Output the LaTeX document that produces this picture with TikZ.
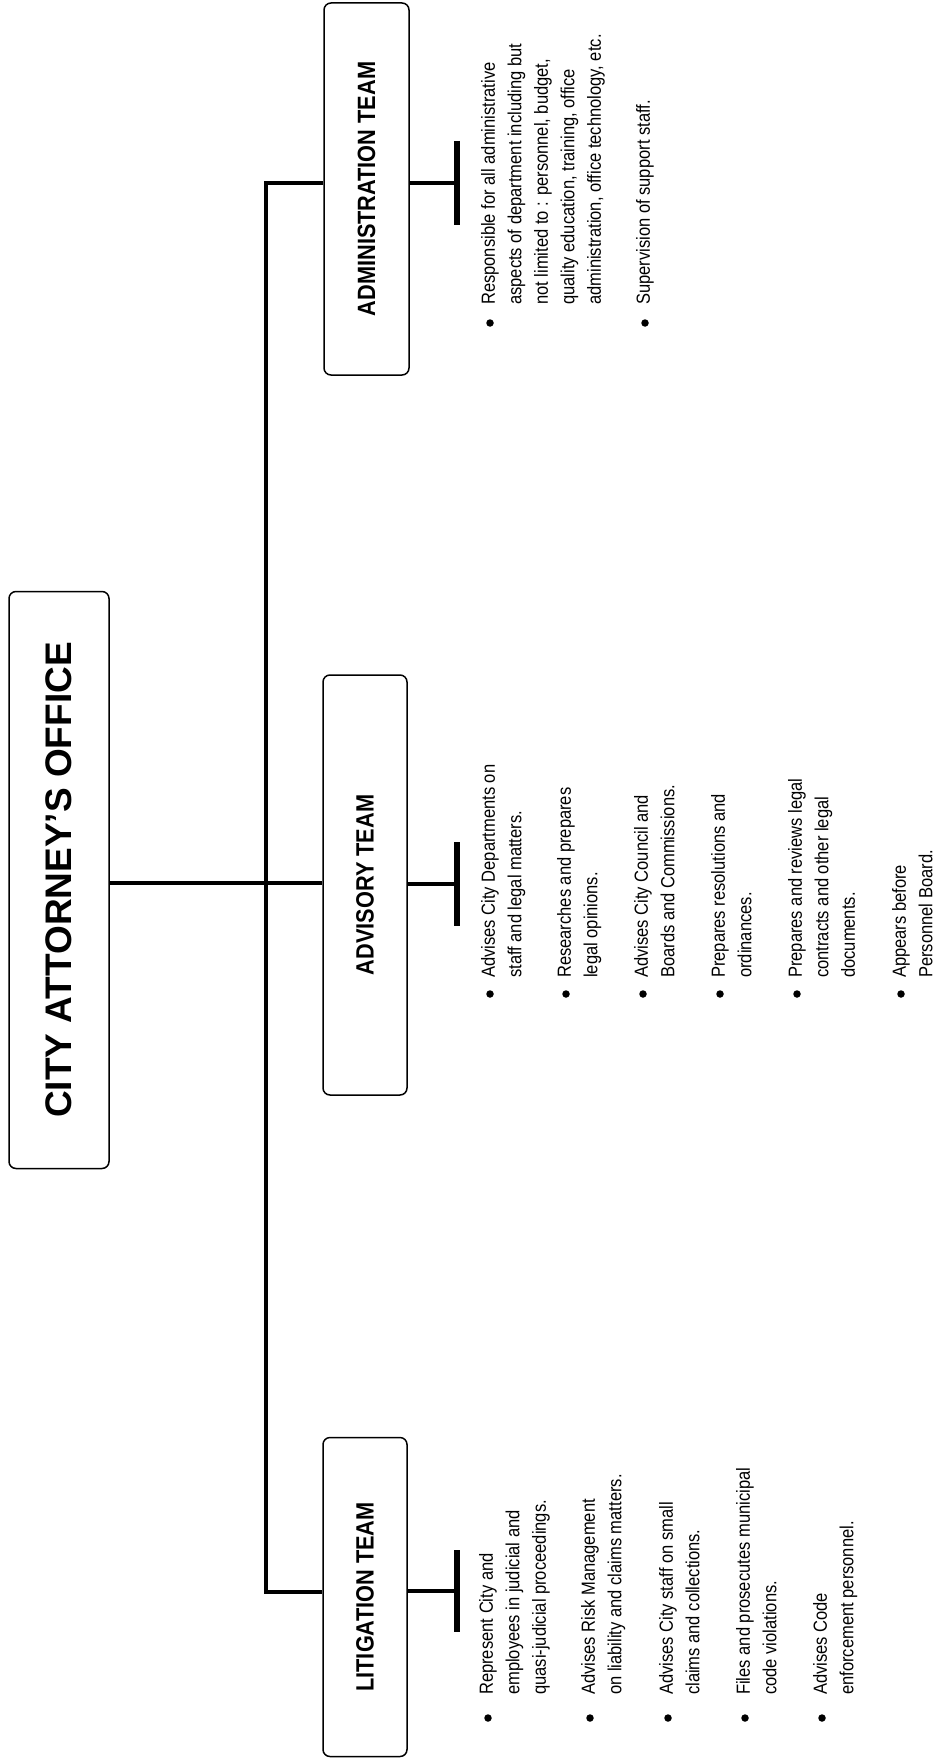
\documentclass[tikz,border=0pt]{standalone}
\usepackage{fontspec}
\setmainfont{Liberation Sans}
\newfontfamily\narrowfont[FakeStretch=0.87]{Liberation Sans}
\begin{document}
\begin{tikzpicture}[x=1pt,y=-1pt,
  box/.style={draw, line width=1.5pt, rounded corners=7pt, rotate=90, inner sep=0pt,
    font=\narrowfont\bfseries\fontsize{25}{30}\selectfont},
  conn/.style={line width=4.5pt},
  tbar/.style={line width=5.5pt},
  itm/.style={rotate=90, anchor=north west, inner sep=0pt, align=left,
    font=\narrowfont\fontsize{19}{26.5}\selectfont},
  dot/.style={circle, fill, inner sep=0pt, minimum size=7.5pt}
]
\useasboundingbox[fill=white] (0,0) rectangle (935,1758);

% boxes (text runs bottom to top)
\node[box, minimum width=577pt, minimum height=100pt,
  font=\bfseries\fontsize{37}{40}\selectfont] (cao) at (59,880) {CITY ATTORNEY'S OFFICE};
\node[box, minimum width=372pt, minimum height=85pt] (adm) at (366.5,189) {ADMINISTRATION TEAM};
\node[box, minimum width=420pt, minimum height=84pt] (adv) at (365,885) {ADVISORY TEAM};
\node[box, minimum width=319pt, minimum height=84pt] (lit) at (365,1597) {LITIGATION TEAM};

% trunk and branches
\coordinate (jA) at (266,183);
\coordinate (jV) at (266,883);
\coordinate (jL) at (266,1592);
\draw[conn] (adm.north |- jA) -- (jA) -- (jL) -- (lit.north |- jL);
\draw[conn] (cao.south |- jV) -- (adv.north |- jV);

% T stubs towards the duty lists
\coordinate (tA) at (457,183);
\coordinate (tV) at (457,884);
\coordinate (tL) at (457,1591);
\draw[conn] (adm.south |- tA) -- (tA);
\draw[conn] (adv.south |- tV) -- (tV);
\draw[conn] (lit.south |- tL) -- (tL);
\draw[tbar] ([yshift=42pt]tA) -- ([yshift=-42pt]tA);
\draw[tbar] ([yshift=42pt]tV) -- ([yshift=-42pt]tV);
\draw[tbar] ([yshift=41pt]tL) -- ([yshift=-41pt]tL);

% administration duties
\node[itm] (ad1) at (481,305) {Responsible for all administrative\\aspects of department including but\\not limited to : personnel, budget,\\quality education, training, office\\administration, office technology, etc.};
\node[itm] (ad2) at (636,305) {Supervision of support staff.};
\foreach \n in {ad1,ad2}
  \node[dot] (b\n) at ([xshift=9pt,yshift=-18pt]\n.north west) {};

% advisory duties
\node[itm] (av1) at (481,978) {Advises City Departments on\\staff and legal matters.};
\node[itm] (av2) at (557,978) {Researches and prepares\\legal opinions.};
\node[itm] (av3) at (634,978) {Advises City Council and\\Boards and Commissions.};
\node[itm] (av4) at (711,978) {Prepares resolutions and\\ordinances.};
\node[itm] (av5) at (788,978) {Prepares and reviews legal\\contracts and other legal\\documents.};
\node[itm] (av6) at (892,978) {Appears before\\Personnel Board.};
\foreach \n in {av1,av2,av3,av4,av5,av6}
  \node[dot] (b\n) at ([xshift=9pt,yshift=-16pt]\n.north west) {};

% litigation duties
\node[itm] (li1) at (479,1695) {Represent City and\\employees in judicial and\\quasi-judicial proceedings.};
\node[itm] (li2) at (581,1695) {Advises Risk Management\\on liability and claims matters.};
\node[itm] (li3) at (659,1695) {Advises City staff on small\\claims and collections.};
\node[itm] (li4) at (736,1695) {Files and prosecutes municipal\\code violations.};
\node[itm] (li5) at (813,1695) {Advises Code\\enforcement personnel.};
\foreach \n in {li1,li2,li3,li4,li5}
  \node[dot] (b\n) at ([xshift=9pt,yshift=-23pt]\n.north west) {};
\end{tikzpicture}
\end{document}
